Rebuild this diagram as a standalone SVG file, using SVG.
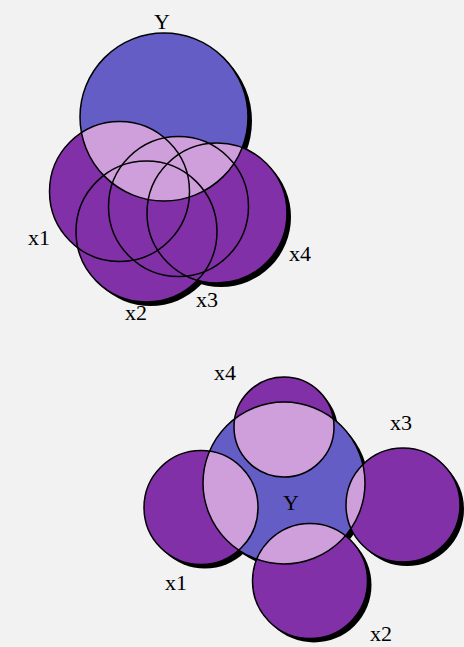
<svg xmlns="http://www.w3.org/2000/svg" xmlns:xlink="http://www.w3.org/1999/xlink" width="464" height="647" viewBox="0 0 464 647">
<style>
.bg{fill:#f2f2f2}
.sh{fill:#000}
.x{fill:#8230a8}
.y{fill:#635dc5}
.lt{fill:#cf9fdc}
.ol{fill:none;stroke:#000;stroke-width:1.5}
.lbl{font-family:"Liberation Serif","DejaVu Serif",serif;font-size:22px;fill:#000;text-anchor:middle}
</style>
<defs>
<circle id="tY" cx="164" cy="117" r="84"/>
<circle id="t1" cx="119.5" cy="191.5" r="70"/>
<circle id="t2" cx="146.5" cy="231.5" r="70.5"/>
<circle id="t3" cx="178.5" cy="206.5" r="70"/>
<circle id="t4" cx="217" cy="213" r="70"/>
<circle id="bY" cx="284" cy="483" r="81"/>
<circle id="b1" cx="201" cy="507.5" r="57"/>
<circle id="b2" cx="310" cy="581" r="57.5"/>
<circle id="b3" cx="403" cy="505" r="57"/>
<circle id="b4" cx="284" cy="427" r="50"/>
<clipPath id="clipTop"><use xlink:href="#t1"/><use xlink:href="#t2"/><use xlink:href="#t3"/><use xlink:href="#t4"/></clipPath>
<clipPath id="clipBot"><use xlink:href="#b1"/><use xlink:href="#b2"/><use xlink:href="#b3"/><use xlink:href="#b4"/></clipPath>
</defs>
<rect class="bg" x="0" y="0" width="464" height="647"/>
<g id="shadows" transform="translate(4,4)">
<use class="sh" xlink:href="#tY"/><use class="sh" xlink:href="#t1"/><use class="sh" xlink:href="#t2"/><use class="sh" xlink:href="#t3"/><use class="sh" xlink:href="#t4"/>
<use class="sh" xlink:href="#bY"/><use class="sh" xlink:href="#b1"/><use class="sh" xlink:href="#b2"/><use class="sh" xlink:href="#b3"/><use class="sh" xlink:href="#b4"/>
</g>
<g id="top-diagram">
<g id="top-Y"><use class="y" xlink:href="#tY"/><text class="lbl" x="162" y="29" font-size="24">Y</text></g>
<g id="top-x1"><use class="x" xlink:href="#t1"/><text class="lbl" x="39" y="245">x1</text></g>
<g id="top-x2"><use class="x" xlink:href="#t2"/><text class="lbl" x="136" y="320">x2</text></g>
<g id="top-x3"><use class="x" xlink:href="#t3"/><text class="lbl" x="207" y="307">x3</text></g>
<g id="top-x4"><use class="x" xlink:href="#t4"/><text class="lbl" x="300" y="261">x4</text></g>
<g id="top-overlap"><use class="lt" xlink:href="#tY" clip-path="url(#clipTop)"/></g>
<g id="top-outlines"><use class="ol" xlink:href="#tY"/><use class="ol" xlink:href="#t1"/><use class="ol" xlink:href="#t2"/><use class="ol" xlink:href="#t3"/><use class="ol" xlink:href="#t4"/></g>
</g>
<g id="bottom-diagram">
<g id="bot-x1"><use class="x" xlink:href="#b1"/><text class="lbl" x="176" y="590">x1</text></g>
<g id="bot-x2"><use class="x" xlink:href="#b2"/><text class="lbl" x="381" y="641">x2</text></g>
<g id="bot-x3"><use class="x" xlink:href="#b3"/><text class="lbl" x="401" y="430">x3</text></g>
<g id="bot-x4"><use class="x" xlink:href="#b4"/><text class="lbl" x="225" y="380">x4</text></g>
<g id="bot-Y"><use class="y" xlink:href="#bY"/><use class="lt" xlink:href="#bY" clip-path="url(#clipBot)"/></g>
<g id="bot-outlines"><use class="ol" xlink:href="#bY"/><use class="ol" xlink:href="#b1"/><use class="ol" xlink:href="#b2"/><use class="ol" xlink:href="#b3"/><use class="ol" xlink:href="#b4"/></g>
<text class="lbl" x="291" y="510" font-size="24">Y</text>
</g>
</svg>
